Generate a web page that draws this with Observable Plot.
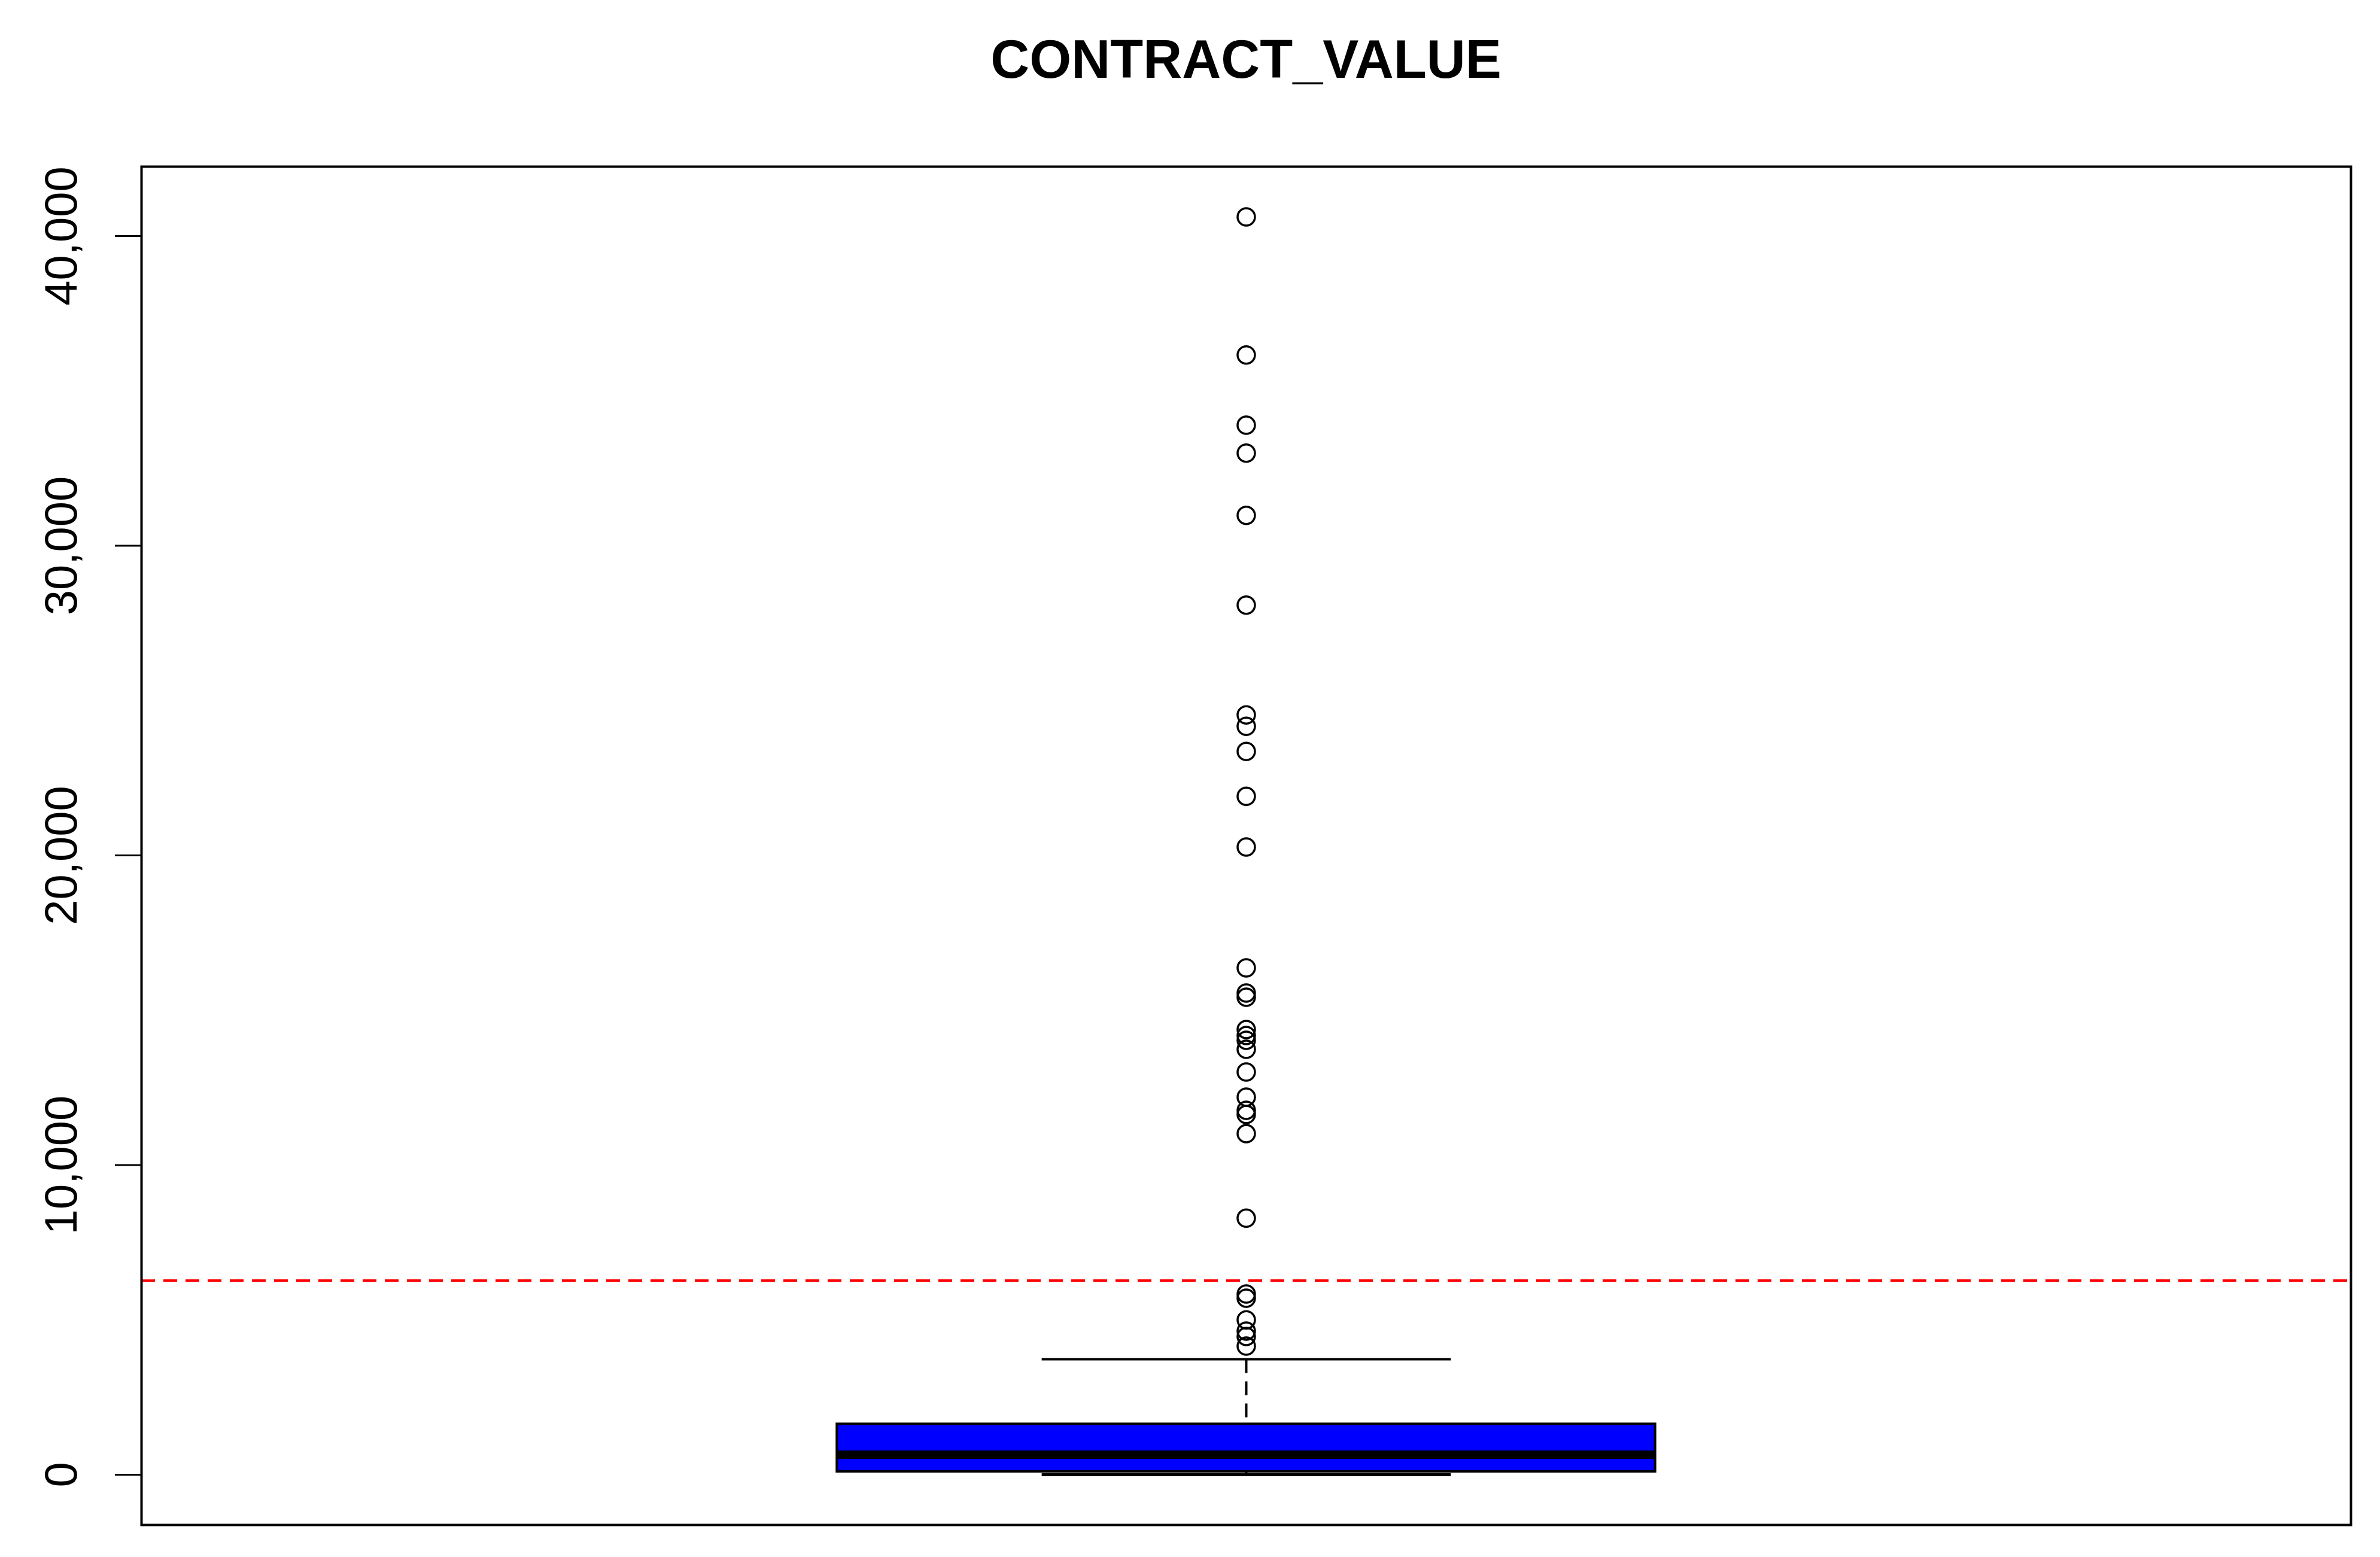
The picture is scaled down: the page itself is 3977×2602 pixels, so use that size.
<!DOCTYPE html>
<html><head><meta charset="utf-8">
<script src="https://cdn.jsdelivr.net/npm/d3@7"></script>
<script src="https://cdn.jsdelivr.net/npm/@observablehq/plot@0.6"></script>
<style>
html,body{margin:0;padding:0;background:#fff;}
#title{box-sizing:border-box;height:200px;padding-top:54px;margin-left:236px;width:3692px;text-align:center;font:bold 90px/90px "Liberation Sans",Arial,sans-serif;color:#000;white-space:nowrap;}
#chart svg{display:block}
</style></head><body>
<div id="title"></div>
<div id="chart"></div>
<script>
// ---- data ----
const chartTitle = "CONTRACT_VALUE";
const categories = ["CONTRACT_VALUE"];
const whiskerLow = [0];
const q1 = [97];
const medians = [644];
const q3 = [1634];
const whiskerHigh = [3729];
const outliers = [40617, 36160, 33894, 32991, 30982, 28083, 24535, 24168, 23357, 21907,
  20271, 16367, 15556, 15420, 14377, 14184, 14029, 13739, 13005, 12193, 11768, 11633,
  11014, 8284, 5836, 5700, 4999, 4638, 4464, 4155];
const thresholdLine = [6267];
const yTicks = [0, 10000, 20000, 30000, 40000];

document.getElementById("title").textContent = chartTitle;

// R-style 4% axis extension
const lo = Math.min(...whiskerLow, ...outliers);
const hi = Math.max(...whiskerHigh, ...outliers);
const pad = (hi - lo) * 0.04;

const boxes = categories.map((c, i) => ({
  pos: i + 1, low: whiskerLow[i], q1: q1[i], med: medians[i], q3: q3[i], high: whiskerHigh[i]
}));
const outPts = outliers.map(v => ({pos: 1, v}));
const half = 0.2, capHalf = 0.1;

const plot = Plot.plot({
  width: 3977,
  height: 2402,
  marginLeft: 236,
  marginRight: 49,
  marginTop: 78,
  marginBottom: 54,
  style: {fontFamily: "'Liberation Sans', Arial, sans-serif", background: "white", color: "black"},
  x: {type: "linear", domain: [0.46, 1.54], axis: null},
  y: {domain: [lo - pad, hi + pad]},
  marks: [
    Plot.axisY({ticks: yTicks, tickSize: 44, tickPadding: 65, tickRotate: -90, fontSize: 76,
      tickFormat: d3.format(","), label: null, strokeWidth: 3}),
    // whisker stems (dashed)
    Plot.link(boxes, {x1: "pos", x2: "pos", y1: "high", y2: "q3", stroke: "black", strokeWidth: 4, strokeDasharray: "23,14"}),
    Plot.link(boxes, {x1: "pos", x2: "pos", y1: "low", y2: "q1", stroke: "black", strokeWidth: 4, strokeDasharray: "23,14"}),
    // whisker caps
    Plot.link(boxes, {x1: d => d.pos - capHalf, x2: d => d.pos + capHalf, y1: "high", y2: "high", stroke: "black", strokeWidth: 4}),
    Plot.link(boxes, {x1: d => d.pos - capHalf, x2: d => d.pos + capHalf, y1: "low", y2: "low", stroke: "black", strokeWidth: 5}),
    // box
    Plot.rect(boxes, {x1: d => d.pos - half, x2: d => d.pos + half, y1: "q1", y2: "q3", fill: "#0000FF", stroke: "black", strokeWidth: 4}),
    // median
    Plot.link(boxes, {x1: d => d.pos - half, x2: d => d.pos + half, y1: "med", y2: "med", stroke: "black", strokeWidth: 14}),
    // outliers
    Plot.dot(outPts, {x: "pos", y: "v", r: 14.5, stroke: "black", strokeWidth: 3.5, fill: "none"}),
    // threshold line
    Plot.ruleY(thresholdLine, {stroke: "#FF0000", strokeWidth: 4, strokeDasharray: "23,14"}),
    Plot.frame({stroke: "black", strokeWidth: 4})
  ]
});
document.getElementById("chart").appendChild(plot);
</script>
</body></html>
